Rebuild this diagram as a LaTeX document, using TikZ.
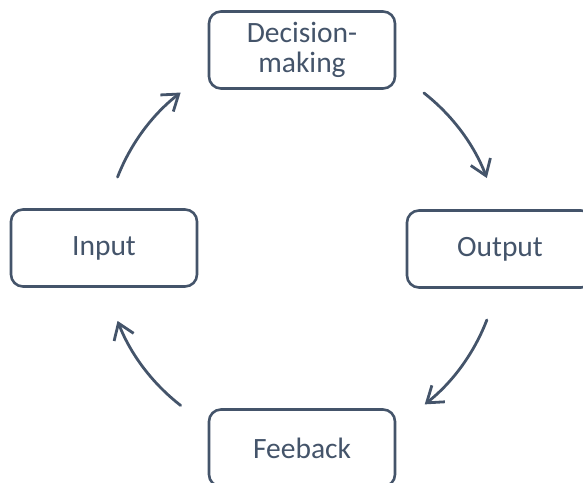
\documentclass[tikz,border=0pt]{standalone}
\usepackage{fontspec}
\setmainfont{Carlito}
\usetikzlibrary{arrows.meta}
\definecolor{slate}{HTML}{44546A}
\tikzset{
  stagebox/.style={draw=slate, line width=2.6pt, rounded corners=12pt, fill=white,
    minimum width=186pt, minimum height=77pt, inner sep=0pt,
    text=slate, align=center, font=\fontsize{29.5}{30}\selectfont},
  cyclearrow/.style={draw=slate, line width=2.8pt, line cap=round,
    -{Straight Barb[length=15pt,width=21pt,line width=2.8pt]}}
}
\begin{document}
\begin{tikzpicture}[x=1pt,y=1pt]
  \useasboundingbox (0,0) rectangle (583,482);
  \clip (0,0) rectangle (583,482);
  % centre of the cycle
  \coordinate (c) at (302,233);
  % the four stages
  \node[stagebox] (dm)  at (302,432) {Decision-\\making};
  \node[stagebox] (in)  at (104,234) {Input};
  \node[stagebox] (out) at (500,233) {Output};
  \node[stagebox] (fb)  at (302,34)  {Feeback};
  % arcs of the cycle, clockwise
  \draw[cyclearrow] ([shift={(158.7:198pt)}]c) arc[start angle=158.7, end angle=127.8, radius=198pt];
  \draw[cyclearrow] ([shift={(52:198pt)}]c) arc[start angle=52, end angle=21, radius=198pt];
  \draw[cyclearrow] ([shift={(-21:198pt)}]c) arc[start angle=-21, end angle=-51.7, radius=198pt];
  \draw[cyclearrow] ([shift={(-127.8:198pt)}]c) arc[start angle=-127.8, end angle=-158.7, radius=198pt];
\end{tikzpicture}
\end{document}
